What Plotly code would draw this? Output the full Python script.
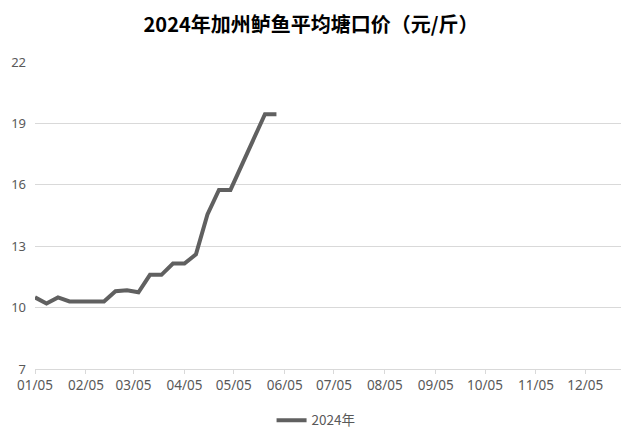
import plotly.graph_objects as go

dates = ["2024-01-05", "2024-01-12", "2024-01-19", "2024-01-26", "2024-02-02", "2024-02-09",
         "2024-02-16", "2024-02-23", "2024-03-01", "2024-03-08", "2024-03-15", "2024-03-22",
         "2024-03-29", "2024-04-05", "2024-04-12", "2024-04-19", "2024-04-26", "2024-05-03",
         "2024-05-10", "2024-05-17", "2024-05-24", "2024-05-31"]
prices = [10.5, 10.2, 10.5, 10.3, 10.3, 10.3, 10.3, 10.8, 10.85, 10.75, 11.6, 11.6,
          12.15, 12.15, 12.6, 14.55, 15.75, 15.75, 16.95, 18.2, 19.45, 19.45]

tick_dates = ["2024-01-05", "2024-02-05", "2024-03-05", "2024-04-05", "2024-05-05", "2024-06-05",
              "2024-07-05", "2024-08-05", "2024-09-05", "2024-10-05", "2024-11-05", "2024-12-05"]
tick_labels = ["01/05", "02/05", "03/05", "04/05", "05/05", "06/05",
               "07/05", "08/05", "09/05", "10/05", "11/05", "12/05"]
y_ticks = [7, 10, 13, 16, 19, 22]

title = "2024年加州鲈鱼平均塘口价（元/斤）"
series_name = "2024年"

fig = go.Figure()
fig.add_trace(go.Scatter(
    x=dates, y=prices, mode="lines", name=series_name,
    line=dict(color="#606060", width=4),
))

fig.update_layout(
    width=621, height=437,
    paper_bgcolor="white", plot_bgcolor="white",
    margin=dict(l=27, r=6, t=54, b=76, autoexpand=False),
    font=dict(family="Noto Sans CJK SC, Noto Sans, sans-serif", size=13, color="#595959"),
    title=dict(text="<b>" + title + "</b>", x=0.488, xanchor="center", y=0.961, yanchor="middle",
               font=dict(size=20, color="#000000", family="Noto Sans CJK SC")),
    showlegend=True,
    legend=dict(orientation="h", x=0.478, xanchor="center", y=-0.117, yanchor="top",
                font=dict(size=13.5, color="#595959")),
)
fig.update_xaxes(
    type="date", range=["2024-01-05", "2024-12-28"], automargin=False,
    tickvals=tick_dates, ticktext=tick_labels,
    showgrid=False, showline=True, linecolor="#d9d9d9", linewidth=1,
    ticks="outside", ticklen=4, tickcolor="#d9d9d9",
    tickfont=dict(size=13.5, color="#595959", family="Noto Sans, sans-serif"),
    zeroline=False,
)
fig.update_yaxes(
    range=[7, 22], tickvals=y_ticks, automargin=False,
    showgrid=True, gridcolor="#d9d9d9", gridwidth=1,
    showline=False, zeroline=False, ticks="", ticklabelstandoff=8,
    tickfont=dict(size=13, color="#595959", family="Noto Sans, sans-serif"),
)

fig.write_html("out.html")
